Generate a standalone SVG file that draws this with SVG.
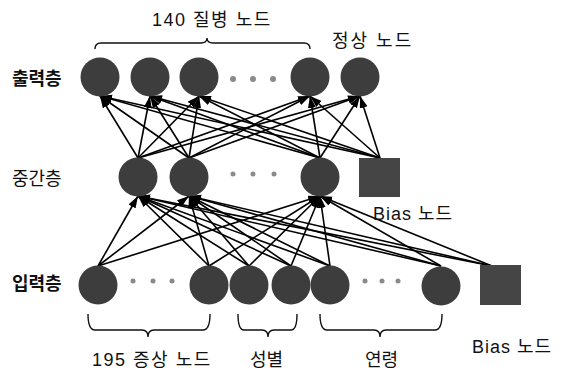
<svg xmlns="http://www.w3.org/2000/svg" width="569" height="372" viewBox="0 0 569 372">
<style>
  .lbl { font-family: "Liberation Sans", "Noto Sans CJK KR", sans-serif; font-size: 18px; fill: #111; letter-spacing: 1.5px; }
  .bold { font-weight: bold; letter-spacing: 0; }
  .node { fill: #3d3d3d; }
  .bias { fill: #454545; }
  .dot { fill: #8a8a8a; }
  .edge { stroke: #000; stroke-width: 1.6; fill: none; marker-end: url(#arr); }
  .brace { stroke: #111; stroke-width: 1.4; fill: none; }
</style>
<defs>
  <marker id="arr" markerUnits="userSpaceOnUse" markerWidth="13" markerHeight="9" refX="12" refY="4" orient="auto">
    <path d="M0,0 L12,4 L0,8 z" fill="#000"/>
  </marker>
</defs>
<rect width="569" height="372" fill="#fff"/>

<!-- layer labels -->
<text class="lbl bold" x="12" y="85">출력층</text>
<text class="lbl" x="12" y="185" style="letter-spacing:0">중간층</text>
<text class="lbl bold" x="12" y="290">입력층</text>

<!-- top labels -->
<text class="lbl" x="152" y="26">140 질병 노드</text>
<text class="lbl" x="332" y="47" style="letter-spacing:2px">정상 노드</text>
<path class="brace" d="M95,49 Q95,43 101,43 L201,43 Q207,43 207,38 Q207,43 213,43 L304,43 Q310,43 310,49"/>

<!-- connectors -->
<g id="connectors">
  <!-- middle -> output -->
  <line class="edge" x1="138" y1="158" x2="100" y2="96"/>
  <line class="edge" x1="138" y1="158" x2="150" y2="96"/>
  <line class="edge" x1="138" y1="158" x2="199" y2="96"/>
  <line class="edge" x1="138" y1="158" x2="310" y2="96"/>
  <line class="edge" x1="138" y1="158" x2="360" y2="96"/>
  <line class="edge" x1="189" y1="158" x2="100" y2="96"/>
  <line class="edge" x1="189" y1="158" x2="150" y2="96"/>
  <line class="edge" x1="189" y1="158" x2="199" y2="96"/>
  <line class="edge" x1="189" y1="158" x2="310" y2="96"/>
  <line class="edge" x1="189" y1="158" x2="360" y2="96"/>
  <line class="edge" x1="320" y1="158" x2="100" y2="96"/>
  <line class="edge" x1="320" y1="158" x2="150" y2="96"/>
  <line class="edge" x1="320" y1="158" x2="199" y2="96"/>
  <line class="edge" x1="320" y1="158" x2="310" y2="96"/>
  <line class="edge" x1="320" y1="158" x2="360" y2="96"/>
  <line class="edge" x1="380" y1="158" x2="100" y2="96"/>
  <line class="edge" x1="380" y1="158" x2="150" y2="96"/>
  <line class="edge" x1="380" y1="158" x2="199" y2="96"/>
  <line class="edge" x1="380" y1="158" x2="310" y2="96"/>
  <line class="edge" x1="380" y1="158" x2="360" y2="96"/>
  <!-- input -> middle -->
  <line class="edge" x1="98" y1="266" x2="138" y2="196"/>
  <line class="edge" x1="98" y1="266" x2="189" y2="196"/>
  <line class="edge" x1="98" y1="266" x2="320" y2="196"/>
  <line class="edge" x1="209" y1="266" x2="138" y2="196"/>
  <line class="edge" x1="209" y1="266" x2="189" y2="196"/>
  <line class="edge" x1="209" y1="266" x2="320" y2="196"/>
  <line class="edge" x1="249" y1="266" x2="138" y2="196"/>
  <line class="edge" x1="249" y1="266" x2="189" y2="196"/>
  <line class="edge" x1="249" y1="266" x2="320" y2="196"/>
  <line class="edge" x1="291" y1="266" x2="138" y2="196"/>
  <line class="edge" x1="291" y1="266" x2="189" y2="196"/>
  <line class="edge" x1="291" y1="266" x2="320" y2="196"/>
  <line class="edge" x1="330" y1="266" x2="138" y2="196"/>
  <line class="edge" x1="330" y1="266" x2="189" y2="196"/>
  <line class="edge" x1="330" y1="266" x2="320" y2="196"/>
  <line class="edge" x1="441" y1="266" x2="138" y2="196"/>
  <line class="edge" x1="441" y1="266" x2="189" y2="196"/>
  <line class="edge" x1="441" y1="266" x2="320" y2="196"/>
  <line class="edge" x1="492" y1="266" x2="138" y2="196"/>
  <line class="edge" x1="492" y1="266" x2="189" y2="196"/>
  <line class="edge" x1="492" y1="266" x2="320" y2="196"/>
</g>

<!-- output layer -->
<g id="out1"><circle class="node" cx="100" cy="77" r="19.5"/></g>
<g id="out2"><circle class="node" cx="150" cy="77" r="19.5"/></g>
<g id="out3"><circle class="node" cx="199" cy="77" r="19.5"/></g>
<g id="out-dots"><circle class="dot" cx="233" cy="79" r="3"/><circle class="dot" cx="253" cy="79" r="3"/><circle class="dot" cx="273" cy="79" r="3"/></g>
<g id="out4"><circle class="node" cx="310" cy="77" r="19.5"/></g>
<g id="out-normal"><circle class="node" cx="360" cy="77" r="19.5"/></g>

<!-- middle layer -->
<g id="mid1"><circle class="node" cx="138" cy="177" r="19.5"/></g>
<g id="mid2"><circle class="node" cx="189" cy="177" r="19.5"/></g>
<g id="mid-dots"><circle class="dot" cx="233" cy="174" r="2.5"/><circle class="dot" cx="253" cy="174" r="2.5"/><circle class="dot" cx="274" cy="174" r="2.5"/></g>
<g id="mid3"><circle class="node" cx="320" cy="177" r="19.5"/></g>
<g id="mid-bias"><rect class="bias" x="359" y="158" width="41" height="39"/></g>
<text class="lbl" x="373" y="220" style="letter-spacing:1px">Bias 노드</text>

<!-- input layer -->
<g id="in1"><circle class="node" cx="98" cy="285" r="19.5"/></g>
<g id="in-dots1"><circle class="dot" cx="133" cy="281" r="2.5"/><circle class="dot" cx="153" cy="281" r="2.5"/><circle class="dot" cx="172" cy="281" r="2.5"/></g>
<g id="in2"><circle class="node" cx="209" cy="285" r="19.5"/></g>
<g id="in-sex1"><circle class="node" cx="249" cy="285" r="19.5"/></g>
<g id="in-sex2"><circle class="node" cx="291" cy="285" r="19.5"/></g>
<g id="in-age1"><circle class="node" cx="330" cy="285" r="19.5"/></g>
<g id="in-dots2"><circle class="dot" cx="365" cy="281" r="2.5"/><circle class="dot" cx="382" cy="281" r="2.5"/><circle class="dot" cx="398" cy="281" r="2.5"/></g>
<g id="in-age2"><circle class="node" cx="441" cy="286" r="19.5"/></g>
<g id="in-bias"><rect class="bias" x="480" y="265" width="41" height="40"/></g>

<!-- bottom braces & labels -->
<path class="brace" d="M88,314 Q88,330 95,330 L142,330 Q148,330 148,337 Q148,330 154,330 L203,330 Q210,330 210,314"/>
<path class="brace" d="M238,314 Q238,330 244,330 L262,330 Q268,330 268,337 Q268,330 274,330 L291,330 Q297,330 297,314"/>
<path class="brace" d="M320,314 Q320,330 327,330 L374,330 Q380,330 380,337 Q380,330 386,330 L435,330 Q442,330 442,314"/>
<text class="lbl" x="92" y="366">195 증상 노드</text>
<text class="lbl" x="250" y="366" style="letter-spacing:0">성별</text>
<text class="lbl" x="365" y="366" style="letter-spacing:0">연령</text>
<text class="lbl" x="472" y="353" style="letter-spacing:1px">Bias 노드</text>
</svg>
